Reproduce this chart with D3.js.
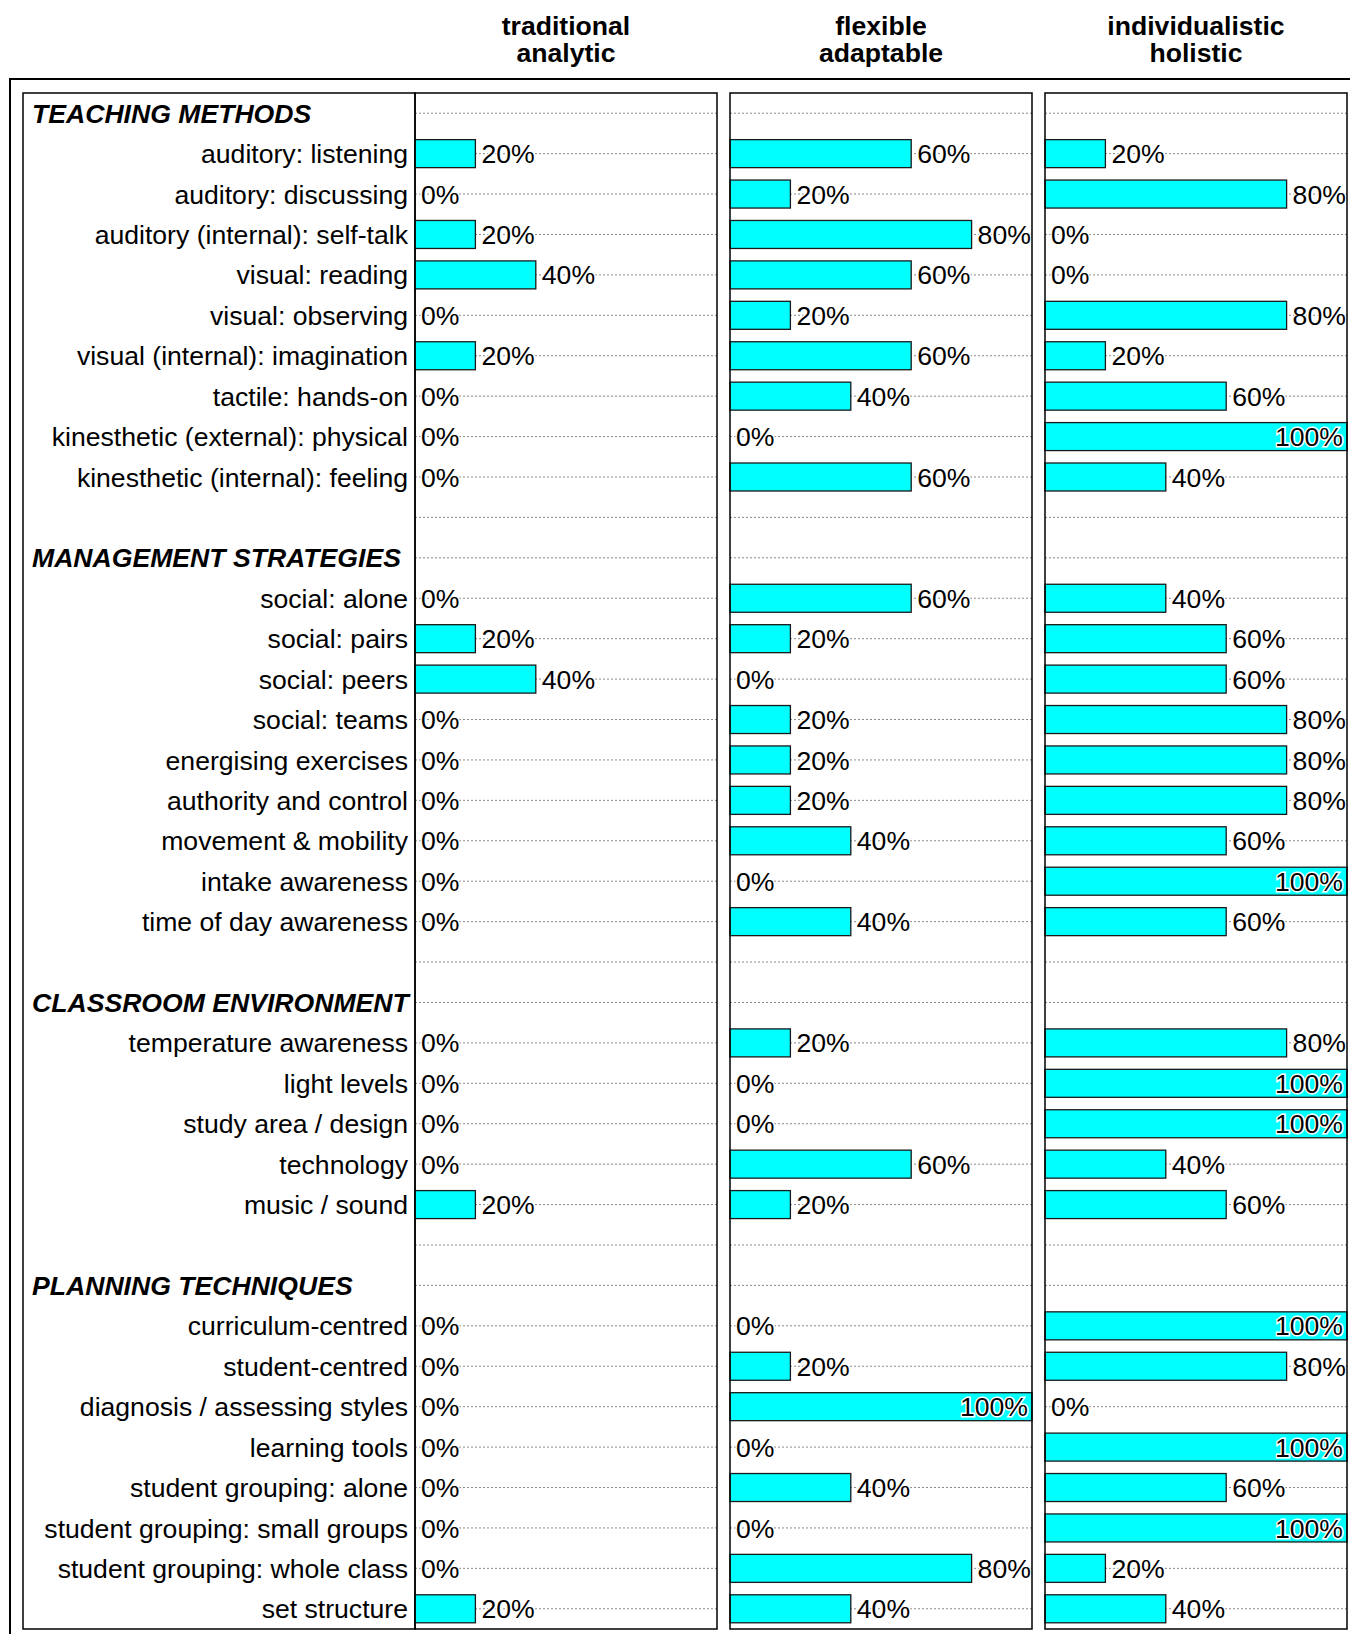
<!DOCTYPE html>
<html>
<head>
<meta charset="utf-8">
<script src="https://cdn.jsdelivr.net/npm/d3@7"></script>
<style>
  body { margin: 0; background: #fff; }
  svg { display: block; font-family: "Liberation Sans", Arial, sans-serif; }
</style>
</head>
<body>
<div id="chart"></div>
<script>
// Section titles and their rows
var sectionNames = ["TEACHING METHODS", "MANAGEMENT STRATEGIES", "CLASSROOM ENVIRONMENT", "PLANNING TECHNIQUES"];

var sectionItems = [
    ["auditory: listening", "auditory: discussing", "auditory (internal): self-talk", "visual: reading",
     "visual: observing", "visual (internal): imagination", "tactile: hands-on",
     "kinesthetic (external): physical", "kinesthetic (internal): feeling"],
    ["social: alone", "social: pairs", "social: peers", "social: teams", "energising exercises",
     "authority and control", "movement & mobility", "intake awareness", "time of day awareness"],
    ["temperature awareness", "light levels", "study area / design", "technology", "music / sound"],
    ["curriculum-centred", "student-centred", "diagnosis / assessing styles", "learning tools",
     "student grouping: alone", "student grouping: small groups", "student grouping: whole class", "set structure"]
];

// Column titles (two lines each)
var seriesTitles = [["traditional", "analytic"], ["flexible", "adaptable"], ["individualistic", "holistic"]];

// Values in percent, same order as the items above
var traditional = [20, 0, 20, 40, 0, 20, 0, 0, 0,
                   0, 20, 40, 0, 0, 0, 0, 0, 0,
                   0, 0, 0, 0, 20,
                   0, 0, 0, 0, 0, 0, 0, 20];
var flexible    = [60, 20, 80, 60, 20, 60, 40, 0, 60,
                   60, 20, 0, 20, 20, 20, 40, 0, 40,
                   20, 0, 0, 60, 20,
                   0, 20, 100, 0, 40, 0, 80, 40];
var holistic    = [20, 80, 0, 0, 80, 20, 60, 100, 40,
                   40, 60, 60, 80, 80, 80, 60, 100, 60,
                   80, 100, 100, 40, 60,
                   100, 80, 0, 100, 60, 100, 20, 40];

var seriesValues = [traditional, flexible, holistic];

// build the list of rows: header, items, blank spacer between sections
var rows = [];
var k = 0;
sectionNames.forEach(function(name, s) {
    rows.push({id: "h" + s, type: "header", label: name});
    sectionItems[s].forEach(function(item) {
        rows.push({id: "r" + k, type: "item", label: item, idx: k});
        k++;
    });
    if (s < sectionNames.length - 1) rows.push({id: "b" + s, type: "blank", label: ""});
});

var W = 1350, H = 1634,
    panelTop = 93, panelBottom = 1629,
    labelLeft = 23, labelRight = 415,
    panelW = 302,
    panelX = [415, 730, 1045],
    barH = 28,
    fs = 26.6;

var svg = d3.select("#chart").append("svg")
            .attr("width", W)
            .attr("height", H);

var y = d3.scaleBand()
          .domain(rows.map(function(d) { return d.id; }))
          .range([panelTop, panelBottom])
          .padding(0);

var x = d3.scaleLinear().domain([0, 100]).range([0, panelW]);

function cy(d) { return y(d.id) + y.bandwidth() / 2; }

// outer frame
svg.append("rect")
   .attr("x", 10)
   .attr("y", 79)
   .attr("width", 1350)
   .attr("height", 1600)
   .attr("fill", "none")
   .attr("stroke", "#000")
   .attr("stroke-width", 2);

// column titles
seriesTitles.forEach(function(t, i) {
    t.forEach(function(line, j) {
        svg.append("text")
           .attr("x", panelX[i] + panelW / 2)
           .attr("y", 25 + j * 27)
           .attr("dy", "0.36em")
           .attr("text-anchor", "middle")
           .attr("font-size", fs)
           .attr("font-weight", "bold")
           .attr("fill", "#000")
           .text(line);
    });
});

// label panel
svg.append("rect")
   .attr("x", labelLeft)
   .attr("y", panelTop)
   .attr("width", labelRight - labelLeft)
   .attr("height", panelBottom - panelTop)
   .attr("fill", "none")
   .attr("stroke", "#000")
   .attr("stroke-width", 1.5);

svg.selectAll("text.lbl")
   .data(rows.filter(function(d) { return d.type !== "blank"; }))
   .enter()
   .append("text")
   .attr("class", "lbl")
   .attr("x", function(d) { return d.type === "header" ? 32 : labelRight - 7; })
   .attr("y", cy)
   .attr("dy", "0.36em")
   .attr("text-anchor", function(d) { return d.type === "header" ? "start" : "end"; })
   .attr("font-size", fs)
   .attr("font-weight", function(d) { return d.type === "header" ? "bold" : "normal"; })
   .attr("font-style", function(d) { return d.type === "header" ? "italic" : "normal"; })
   .attr("fill", "#000")
   .text(function(d) { return d.label; });

// the three panels
panelX.forEach(function(px, i) {
    var g = svg.append("g").attr("transform", "translate(" + px + ",0)");
    var vals = seriesValues[i];
    var items = rows.filter(function(d) { return d.type === "item"; });

    g.selectAll("line.grid")
     .data(rows)
     .enter()
     .append("line")
     .attr("class", "grid")
     .attr("x1", 0)
     .attr("x2", panelW)
     .attr("y1", cy)
     .attr("y2", cy)
     .attr("stroke", "#8a8a8a")
     .attr("stroke-width", 1)
     .attr("stroke-dasharray", "2,2");

    g.selectAll("rect.bar")
     .data(items)
     .enter()
     .append("rect")
     .attr("class", "bar")
     .attr("x", 0)
     .attr("y", function(d) { return cy(d) - barH / 2; })
     .attr("width", function(d) { return x(vals[d.idx]); })
     .attr("height", barH)
     .attr("fill", "#00ffff")
     .attr("stroke", "#1a1a1a")
     .attr("stroke-width", 1.3);

    g.selectAll("text.val")
     .data(items)
     .enter()
     .append("text")
     .attr("class", "val")
     .attr("x", function(d) {
         var v = vals[d.idx];
         return v >= 100 ? x(v) - 4 : x(v) + 6;
     })
     .attr("y", cy)
     .attr("dy", "0.36em")
     .attr("text-anchor", function(d) { return vals[d.idx] >= 100 ? "end" : "start"; })
     .attr("font-size", fs)
     .attr("fill", "#000")
     .attr("stroke", "#fff")
     .attr("stroke-width", 3)
     .attr("paint-order", "stroke")
     .text(function(d) { return vals[d.idx] + "%"; });

    g.append("rect")
     .attr("x", 0)
     .attr("y", panelTop)
     .attr("width", panelW)
     .attr("height", panelBottom - panelTop)
     .attr("fill", "none")
     .attr("stroke", "#000")
     .attr("stroke-width", 1.5);
});
</script>
</body>
</html>
